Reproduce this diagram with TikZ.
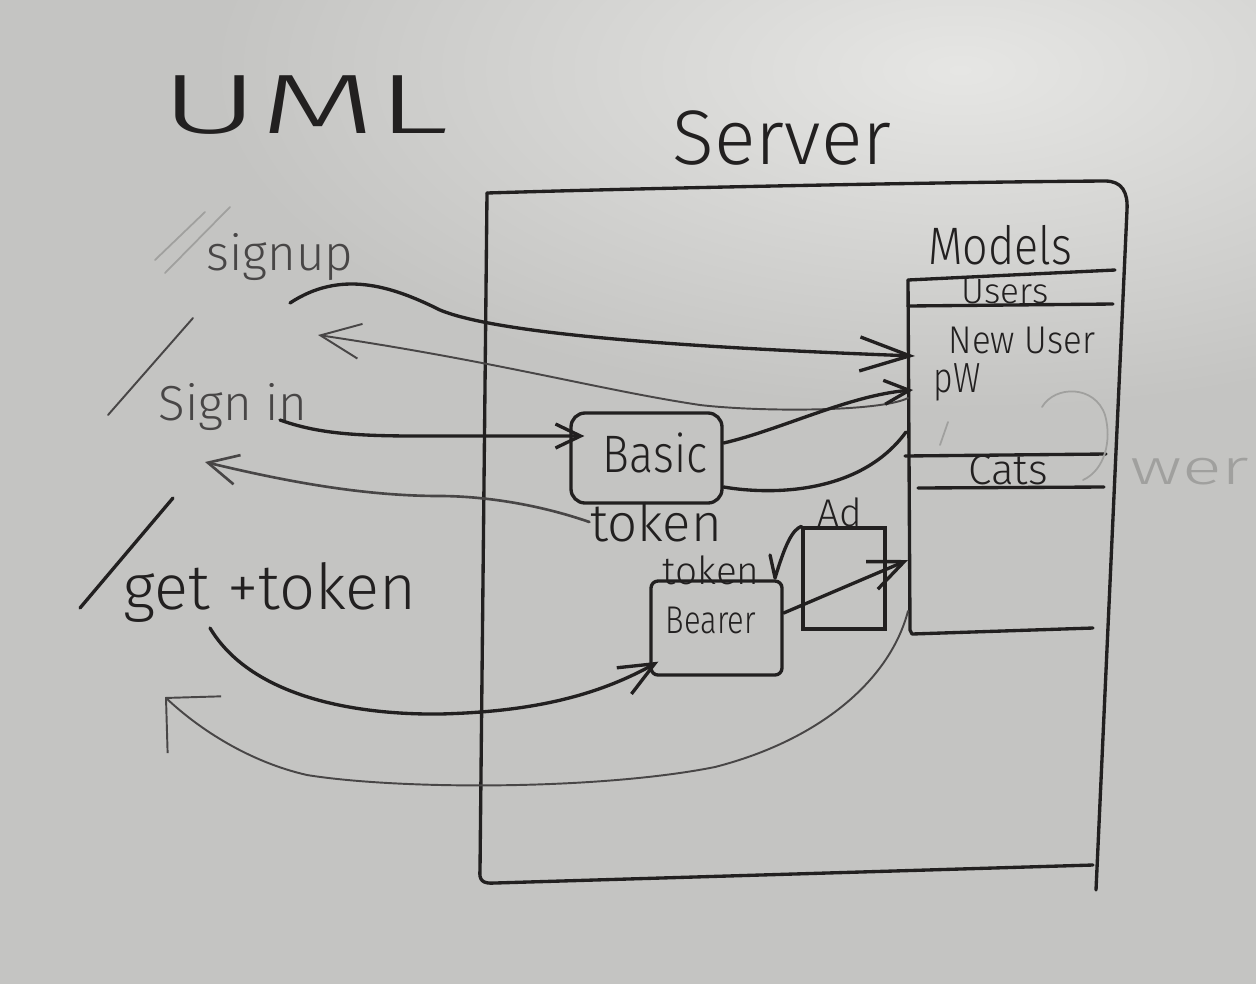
\documentclass[tikz,border=0pt]{standalone}
\usepackage{fontspec}
\IfFontExistsTF{Fira Sans Light}{\setmainfont{Fira Sans Light}}{\setmainfont{Liberation Sans}}
\usetikzlibrary{arrows.meta,positioning}
\definecolor{board}{RGB}{196,196,194}
\definecolor{boardlight}{RGB}{230,230,228}
\definecolor{ink}{RGB}{34,32,32}
\definecolor{pen}{RGB}{72,70,70}
\definecolor{ghost}{RGB}{160,160,158}
\newcommand{\hs}[1]{\fontsize{#1}{#1}\selectfont}
\begin{document}
\begin{tikzpicture}[x=1cm,y=-1cm,
    ink/.style={draw=ink, line width=0.95pt, line cap=round, line join=round},
    thin/.style={draw=pen, line width=0.55pt, line cap=round, line join=round},
    faint/.style={draw=ghost, line width=0.5pt, line cap=round},
    hand/.style={inner sep=0pt, text=ink},
    box/.style={ink, rounded corners=4pt, inner sep=0pt},
    bigtip/.style={-{Straight Barb[length=5mm,width=3.4mm]}},
    midtip/.style={-{Straight Barb[length=3.5mm,width=3mm]}},
    smalltip/.style={-{Straight Barb[length=2.5mm,width=2.4mm]}}]
  \useasboundingbox (0,0) rectangle (12.56,9.84);
  \clip (0,0) rectangle (12.56,9.84);
  \fill[board] (0,0) rectangle (12.56,9.84);
  \shade[inner color=boardlight, outer color=board] (9.6,0.7) ellipse (7.5 and 3.4);

  \node[hand, font=\hs{24}, xscale=1.8] (uml) at (3.05,1.05) {UML};
  \node[hand, font=\hs{22}] (server) at (7.82,1.38) {Server};

  % server box
  \draw[ink] (4.87,1.93) .. controls (6.50,1.88) and (9.50,1.82) .. (11.05,1.81)
    .. controls (11.22,1.81) and (11.28,1.92) .. (11.27,2.10) -- (10.96,8.90);
  \draw[ink] (4.87,1.93) -- (4.80,8.70) .. controls (4.79,8.80) and (4.82,8.84) .. (4.95,8.83) -- (10.93,8.65);

  % models
  \node[hand, font=\hs{15}, xscale=0.85] (models) at (10.00,2.45) {Models};
  \draw[ink] (9.08,2.80) -- (11.15,2.70);
  \node[hand, font=\hs{10}] (users) at (10.05,2.92) {Users};
  \draw[ink] (9.08,3.06) -- (11.13,3.04);
  \node[hand, font=\hs{11}, xscale=0.9] (newuser) at (10.22,3.40) {New User};
  \node[hand, font=\hs{12}, xscale=0.8] (pw) at (9.57,3.82) {pW};
  \draw[ink] (9.05,4.56) -- (11.06,4.54);
  \node[hand, font=\hs{12}] (cats) at (10.08,4.70) {Cats};
  \draw[ink] (9.18,4.88) -- (11.04,4.87);
  \draw[ink] (9.08,2.80) -- (9.10,6.30) -- (9.12,6.34) -- (10.93,6.28);

  \coordinate (userin) at (9.15,3.56);
  \coordinate (pwin) at (9.13,3.90);
  \coordinate (pwout) at (9.08,3.98);
  \coordinate (pwret) at (9.06,4.32);
  \coordinate (modelin) at (9.08,5.60);
  \coordinate (modelout) at (9.08,6.11);

  % routes
  \draw[faint] (1.65,2.73) -- (2.30,2.07);
  \draw[faint] (1.55,2.60) -- (2.05,2.12);
  \node[hand, text=pen, font=\hs{14}] (signup) at (2.80,2.57) {signup};
  \draw[thin] (1.08,4.15) -- (1.93,3.18);
  \node[hand, text=pen, font=\hs{14}] (signin) at (2.33,4.07) {Sign in};
  \draw[ink] (0.80,6.08) -- (1.73,4.98);
  \node[hand, font=\hs{18}] (gettoken) at (2.70,5.92) {get +token};

  \coordinate (signupout) at (2.90,3.03);
  \coordinate (signupback) at (3.18,3.35);
  \coordinate (signinout) at (2.80,4.20);
  \coordinate (tokenback) at (2.05,4.62);
  \coordinate (getout) at (2.10,6.28);
  \coordinate (getback) at (1.65,6.97);

  % auth
  \node[box, minimum width=1.51cm, minimum height=0.90cm] (basicbox) at (6.465,4.58) {};
  \node[hand, font=\hs{15}, xscale=0.85] (basic) at (6.55,4.53) {Basic};
  \node[hand, font=\hs{15}] (token) at (6.56,5.22) {token};
  \node[draw=ink, line width=0.95pt, minimum width=0.82cm, minimum height=1.01cm, inner sep=0pt] (adbox) at (8.44,5.785) {};
  \node[hand, font=\hs{11}] (ad) at (8.40,5.12) {Ad};
  \node[hand, font=\hs{11}] (tokenb) at (7.11,5.70) {token};
  \node[box, rounded corners=2pt, minimum width=1.31cm, minimum height=0.94cm] (bearerbox) at (7.165,6.28) {};
  \node[hand, font=\hs{11}, xscale=0.8] (bearer) at (7.11,6.20) {Bearer};

  \draw[ink, bigtip] (signupout) .. controls (3.40,2.70) and (3.90,2.85) .. (4.40,3.10)
    .. controls (5.00,3.35) and (7.00,3.48) .. (userin);
  \draw[thin, -{Straight Barb[length=4mm,width=3.5mm]}] (pwout) .. controls (8.80,4.12) and (7.60,4.12) .. (7.00,4.05)
    .. controls (6.00,3.90) and (5.00,3.62) .. (signupback);
  \draw[ink, smalltip] (signinout) .. controls (3.30,4.38) and (3.80,4.36) .. (4.80,4.36)
    -- ([xshift=1.5mm,yshift=2.2mm]basicbox.west);
  \draw[ink, smalltip] ([yshift=1.5mm]basicbox.east) .. controls (7.80,4.30) and (8.50,3.95) .. (pwin);
  \draw[ink] ([yshift=-2.9mm]basicbox.east) .. controls (7.70,4.95) and (8.60,4.95) .. (pwret);
  \draw[thin, line width=0.75pt, -{Straight Barb[length=3mm,width=3mm]}] (token.west) .. controls (5.20,4.98) and (4.60,4.96) .. (4.40,4.96)
    .. controls (3.60,4.96) and (2.80,4.80) .. (tokenback);
  \draw[ink, midtip] (getout) .. controls (2.50,6.95) and (3.50,7.15) .. (4.40,7.14)
    .. controls (5.20,7.12) and (5.90,7.00) .. ([xshift=0.9mm,yshift=1.5mm]bearerbox.south west);
  \draw[ink, midtip] ([yshift=1.5mm]bearerbox.east) -- (modelin);
  \draw[ink] ([xshift=1mm,yshift=1.5mm]tokenb.east) -- ([xshift=1.5mm,yshift=-0.8mm]tokenb.east)
    .. controls (7.85,5.45) and (7.92,5.30) .. (adbox.north west);
  \draw[thin, -{Straight Barb[length=3.9mm,width=7.8mm]}] (modelout) .. controls (8.90,6.80) and (8.20,7.40) .. (7.15,7.67)
    .. controls (6.00,7.90) and (4.00,7.90) .. (3.07,7.75) .. controls (2.50,7.62) and (2.00,7.30) .. (getback);

  % erased
  \draw[faint] (10.42,4.07) .. controls (10.55,3.85) and (10.95,3.85) .. (11.05,4.15)
    .. controls (11.12,4.40) and (11.05,4.70) .. (10.83,4.80);
  \draw[faint] (9.40,4.45) -- (9.48,4.22);
  \node[hand, text=ghost, font=\hs{14}, xscale=1.5] (wer) at (11.90,4.72) {wer};
\end{tikzpicture}
\end{document}
